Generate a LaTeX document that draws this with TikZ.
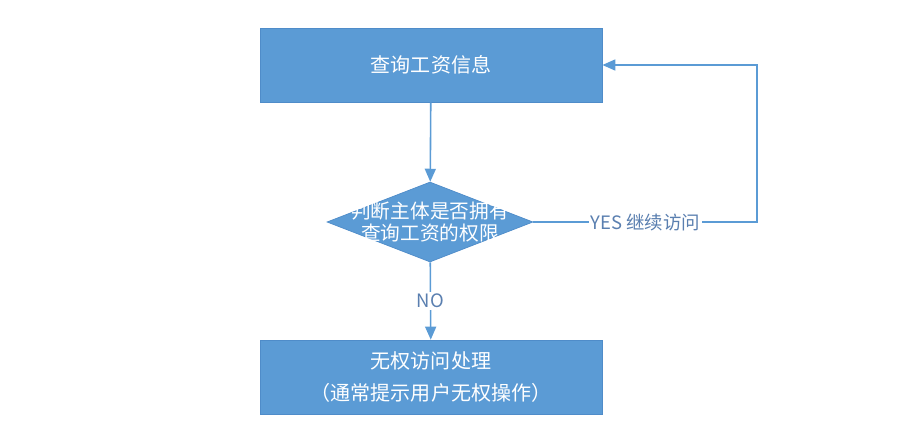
\documentclass[tikz,border=0pt]{standalone}
\usepackage{fontspec}
\setmainfont{Noto Sans CJK SC}
\usetikzlibrary{shapes.geometric,arrows.meta}
\definecolor{boxblue}{HTML}{5B9BD5}
\definecolor{boxline}{HTML}{4F8CC9}
\definecolor{labelblue}{HTML}{5A7FB0}

\begin{document}
\begin{tikzpicture}[>={Triangle[length=2.6mm,width=2.2mm]},
    stepbox/.style={draw=boxline,fill=boxblue,minimum width=6.84cm,minimum height=1.48cm,
        text=white,align=center,font=\fontsize{11.4}{18}\selectfont},
    link/.style={->,draw=boxblue,line width=0.9pt},
    tag/.style={text=labelblue,font=\fontsize{10.5}{12}\selectfont}]
    \useasboundingbox (0,0) rectangle (18.26,-8.68);
    \node[stepbox] (query) at (8.62,-1.30) {查询工资信息};
    \node[diamond,draw=boxline,fill=boxblue,minimum width=4.12cm,minimum height=1.6cm,inner sep=0pt] (check) at (8.60,-4.44) {};
    \node[text=white,align=center,font=\fontsize{11.2}{13}\selectfont] (checktext) at (check) {判断主体是否拥有\\查询工资的权限};
    \node[stepbox] (deny) at (8.62,-7.54) {无权访问处理\\（通常提示用户无权操作）};
    \coordinate (corner1) at (15.14,-4.44);
    \coordinate (corner2) at (15.14,-1.30);
    \draw[link] (query) -- (check);
    \draw[link] (check) -- node[tag,fill=white,inner sep=1pt] {NO} (deny);
    \draw[link] (check.east) -- node[tag,fill=white,inner sep=1pt] {YES 继续访问} (corner1) -- (corner2) -- (query.east);
\end{tikzpicture}
\end{document}
